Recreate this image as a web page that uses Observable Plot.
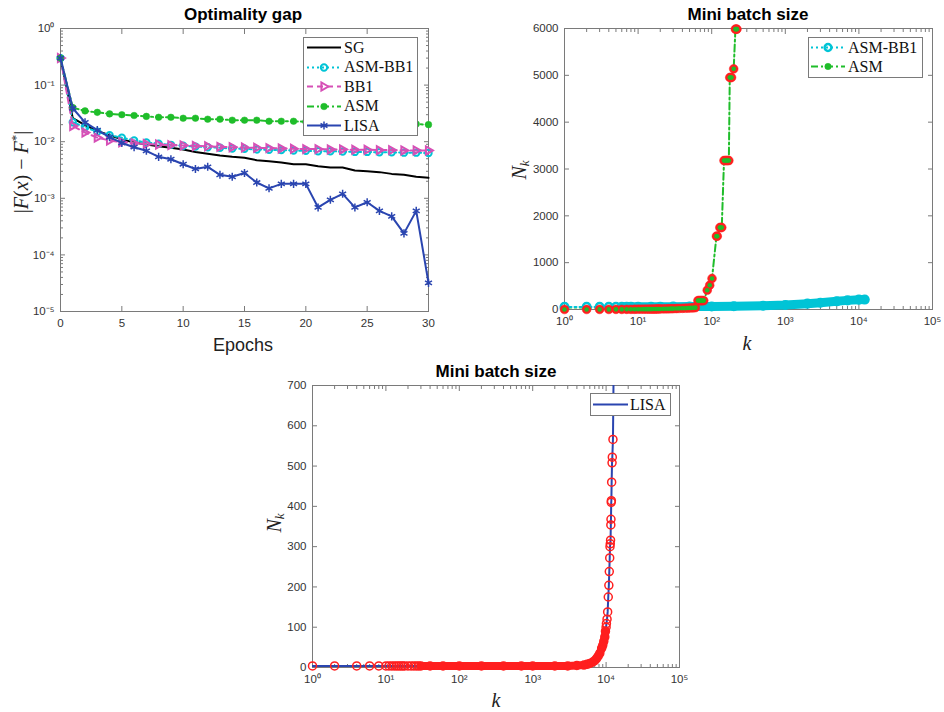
<!DOCTYPE html>
<html><head><meta charset="utf-8">
<script src="https://cdn.jsdelivr.net/npm/d3@7"></script>
<script src="https://cdn.jsdelivr.net/npm/@observablehq/plot@0.6"></script>
<style>
body{margin:0;background:#fff;}
#root{position:relative;width:944px;height:712px;overflow:hidden;font-family:Arial,"Liberation Sans",sans-serif;background:#fff;}
.abs{position:absolute;}
.title{position:absolute;font-weight:bold;font-size:17px;transform:translate(-50%,-50%);white-space:nowrap;color:#000;}
.lab{position:absolute;transform:translate(-50%,-50%);white-space:nowrap;color:#222;}
.math{font-family:"Liberation Serif","DejaVu Serif",serif;font-size:20px;}
.math sup{font-size:0.65em;vertical-align:0.55em;line-height:0;}
.math sub{font-size:0.65em;vertical-align:-0.3em;line-height:0;}
.legend{position:absolute;background:#fff;border:1px solid #7a7a7a;box-sizing:border-box;font-family:"Liberation Serif","Times New Roman",serif;font-size:16px;color:#111;}
.row{position:absolute;left:0;height:19px;display:flex;align-items:center;white-space:nowrap;}
.plot{position:absolute;}
</style></head>
<body><div id="root"></div>
<script>
// ---------------- data ----------------
const epochs = [0,1,2,3,4,5,6,7,8,9,10,11,12,13,14,15,16,17,18,19,20,21,22,23,24,25,26,27,28,29,30];
const gapSG  = [0.30,0.026,0.0196,0.0155,0.013,0.011,0.0097,0.0089,0.0083,0.0078,0.0073,0.0066,0.0061,0.0057,0.0054,0.0052,0.0047,0.0045,0.0043,0.0040,0.0040,0.0037,0.0035,0.0035,0.0031,0.0030,0.0029,0.0027,0.0026,0.0024,0.0023];
const gapASMBB1 = [0.30,0.022,0.018,0.015,0.013,0.0118,0.0105,0.0097,0.0092,0.0088,0.0085,0.0082,0.0080,0.0078,0.0076,0.0075,0.0073,0.0072,0.0071,0.0070,0.0069,0.0068,0.0068,0.0067,0.0066,0.0066,0.0065,0.0065,0.0064,0.0064,0.0063];
const gapBB1 = [0.30,0.019,0.0145,0.0118,0.0105,0.0098,0.0094,0.0091,0.0089,0.0087,0.0086,0.0084,0.0083,0.0081,0.0080,0.0079,0.0078,0.0077,0.0076,0.0075,0.0074,0.0074,0.0073,0.0073,0.0072,0.0072,0.0071,0.0071,0.0070,0.0070,0.0070];
const gapASM = [0.30,0.040,0.035,0.033,0.031,0.030,0.029,0.028,0.027,0.027,0.026,0.026,0.025,0.025,0.024,0.024,0.024,0.023,0.023,0.023,0.0225,0.022,0.022,0.022,0.021,0.021,0.021,0.021,0.0205,0.0205,0.020];
const gapLISA = [0.30,0.039,0.022,0.016,0.012,0.0095,0.0080,0.0069,0.0054,0.0049,0.0040,0.0033,0.0036,0.0026,0.0024,0.0028,0.0019,0.0015,0.0018,0.0018,0.0018,0.00069,0.00094,0.0012,0.00069,0.00085,0.00060,0.00048,0.00024,0.00060,0.000032];
const gapNames = ["SG","ASM-BB1","BB1","ASM","LISA"];
const gapValues = [gapSG, gapASMBB1, gapBB1, gapASM, gapLISA];

// Mini batch size, ASM-BB1 vs ASM: [k, N_k]
const batchASMBB1 = [[1,55],[2,55],[3,55],[4,56],[5,56],[6,56],[7,57],[8,57],[10,58],[15,59],[20,60],[30,61],[50,62],[100,65],[200,70],[500,80],[1000,95],[2000,125],[3000,145],[5000,175],[7000,195],[10000,210],[12000,212]];
const batchASM = [[1,1],[2,1],[3,2],[4,2],[5,3],[6,3],[7,4],[8,4],[9,5],[10,6],[11,6],[12,7],[13,8],[14,8],[15,9],[16,10],[17,10],[18,11],[19,12],[20,12],[22,14],[24,15],[26,16],[28,18],[30,19],[33,21],[36,23],[40,26],[44,28],[48,31],[52,34],[56,37],[60,40],
  [65,190],[67,190],[69,190],[71,190],[73,190],[75,190],[78,190],[87,412],[94,519],[101,662],[116,1565],[119,1565],[129,1751],[133,1751],[137,1751],
  [147,3181],[153,3181],[159,3181],[165,3181],[171,3181],[176,4954],[181,4954],[186,4954],[199,5138],[210,5986],[215,5986],[220,5986],[223,7400]];
// Mini batch size, LISA: [k, N_k]
const batchLISA = [[1,4],[2,4],[4,4],[6,4],[8,4],[10,4],[11,4],[12,4],[13,4],[14,4],[15,4],[16,4],[17,4],[18,4],[20,4],[22,4],[24,4],[26,4],[28,4],[30,4],[40,4],[60,4],[100,4],[200,4],[400,4],[700,4],[1000,4],[2000,4],[3000,4],[4000,5],[5000,6],[5500,8],[6000,10],[6500,13],[7000,17],[7400,22],[7800,28],[8200,35],[8700,48],[9000,55],[9300,65],[9600,76],[9800,90],[10000,100],[10100,109],[10300,120],[10500,138],[10700,175],[10900,204],[11050,238],[11200,272],[11300,300],[11400,307],[11500,316],[11600,354],[11650,368],[11750,410],[11800,414],[11900,460],[12050,508],[12150,522],[12400,566],[12700,760]];

// ticks
const epochTicks = [0,5,10,15,20,25,30];
const gapTicks = [1e-5,1e-4,1e-3,1e-2,1e-1,1];
const gapTickLabels = ["10⁻⁵","10⁻⁴","10⁻³","10⁻²","10⁻¹","10⁰"];
const kTicks = [1,10,100,1000,10000,100000];
const kTickLabels = ["10⁰","10¹","10²","10³","10⁴","10⁵"];
const nTicksASM = [0,1000,2000,3000,4000,5000,6000];
const nTicksLISA = [0,100,200,300,400,500,600,700];

// ---------------- styles ----------------
const cyan = "#00c4d6", magenta = "#d650b6", green = "#1fbd2a", blue = "#2a45b0", red = "#ff1f1f";
const triRight = {draw(ctx, size) { const r = Math.sqrt(size / Math.PI); ctx.moveTo(r * 1.1, 0); ctx.lineTo(-r * 0.65, -r); ctx.lineTo(-r * 0.65, r); ctx.closePath(); }};
const sty = {
  "SG": {stroke: "#000", width: 2},
  "ASM-BB1": {stroke: cyan, width: 2, dash: "2 3", symbol: d3.symbolCircle, r: 3.2, fill: "none", mstroke: cyan, mwidth: 2},
  "BB1": {stroke: magenta, width: 2, dash: "6 4", symbol: triRight, r: 4, fill: "none", mstroke: magenta, mwidth: 2},
  "ASM": {stroke: green, width: 2, dash: "7 3 2 3", symbol: d3.symbolCircle, r: 3.3, fill: green, mstroke: green, mwidth: 0.5},
  "LISA": {stroke: blue, width: 2, symbol: d3.symbolAsterisk, r: 3.8, fill: "none", mstroke: blue, mwidth: 1.5}
};

const root = document.getElementById("root");
const fmt = (ticks, labels) => d => { const i = ticks.indexOf(d); return i < 0 ? "" : labels[i]; };
const minorOf = ticks => ticks.slice(0, -1).flatMap(p => [2,3,4,5,6,7,8,9].map(m => m * p));
const tc = "#7a7a7a";

function boxAxes(o) {
  const marks = [];
  for (const anchor of ["bottom", "top"]) {
    marks.push(Plot.axisX(o.xTicks, {anchor, tickSize: -5, tickFormat: () => "", stroke: tc, label: null}));
    if (o.xMinor) marks.push(Plot.axisX(o.xMinor, {anchor, tickSize: -3, tickFormat: () => "", stroke: tc, label: null}));
  }
  for (const anchor of ["left", "right"]) {
    marks.push(Plot.axisY(o.yTicks, {anchor, tickSize: -5, tickFormat: () => "", stroke: tc, label: null}));
    if (o.yMinor) marks.push(Plot.axisY(o.yMinor, {anchor, tickSize: -3, tickFormat: () => "", stroke: tc, label: null}));
  }
  marks.push(Plot.axisX(o.xTicks, {anchor: "bottom", tickSize: 0, tickPadding: 7, tickFormat: o.xFormat, label: null}));
  marks.push(Plot.axisY(o.yTicks, {anchor: "left", tickSize: 0, tickPadding: 6, tickFormat: o.yFormat, label: null}));
  marks.push(Plot.frame({stroke: tc, strokeWidth: 1}));
  return marks;
}
const plotStyle = {background: "transparent", overflow: "visible", fontFamily: "Arial, 'Liberation Sans', sans-serif", fontSize: "11.5px", color: "#333"};

function place(svg, left, top) { svg.classList.add("plot"); svg.style.left = left + "px"; svg.style.top = top + "px"; root.appendChild(svg); }

// ---------------- Plot 1: optimality gap ----------------
{
  const marks = [];
  gapNames.forEach((name, si) => {
    const s = sty[name];
    const data = epochs.map((e, i) => ({epoch: e, gap: gapValues[si][i]}));
    marks.push(Plot.line(data, {x: "epoch", y: "gap", stroke: s.stroke, strokeWidth: s.width, strokeDasharray: s.dash}));
    if (s.symbol) marks.push(Plot.dot(data, {x: "epoch", y: "gap", symbol: s.symbol, r: s.r, fill: s.fill, stroke: s.mstroke, strokeWidth: s.mwidth}));
  });
  const svg = Plot.plot({
    width: 422, height: 311, marginLeft: 48, marginRight: 6, marginTop: 8, marginBottom: 20,
    style: plotStyle,
    x: {domain: [0, 30], label: null},
    y: {type: "log", domain: [1e-5, 1], label: null},
    marks: [...boxAxes({xTicks: epochTicks, yTicks: gapTicks, yMinor: minorOf(gapTicks), xFormat: d => String(d), yFormat: fmt(gapTicks, gapTickLabels)}), ...marks]
  });
  place(svg, 12, 20);
}

// ---------------- Plot 2: mini batch ASM-BB1 / ASM ----------------
{
  const bb1 = batchASMBB1.map(([k, n]) => ({k, n}));
  const asm = batchASM.map(([k, n]) => ({k, n}));
  const asmShown = asm.filter(d => d.n <= 6000);
  const svg = Plot.plot({
    width: 422, height: 309, marginLeft: 48, marginRight: 6, marginTop: 8, marginBottom: 20,
    style: plotStyle,
    x: {type: "log", domain: [1, 1e5], label: null},
    y: {domain: [0, 6000], label: null},
    marks: [
      ...boxAxes({xTicks: kTicks, xMinor: minorOf(kTicks), yTicks: nTicksASM, xFormat: fmt(kTicks, kTickLabels), yFormat: d => String(d)}),
      Plot.line(bb1.filter(d => d.k >= 6), {x: "k", y: "n", stroke: cyan, strokeWidth: 9, strokeLinecap: "round", strokeLinejoin: "round"}),
      Plot.line(bb1, {x: "k", y: "n", stroke: cyan, strokeWidth: 2, strokeDasharray: "2 3"}),
      Plot.dot(bb1, {x: "k", y: "n", r: 3.8, fill: "none", stroke: cyan, strokeWidth: 2.5}),
      Plot.line(asm, {x: "k", y: "n", stroke: green, strokeWidth: 2, strokeDasharray: "7 3 2 3", clip: true}),
      Plot.dot(asmShown, {x: "k", y: "n", r: 4.4, fill: red, stroke: red, strokeWidth: 0.5}),
      Plot.dot(asmShown, {x: "k", y: "n", r: 2.3, fill: green})
    ]
  });
  place(svg, 516, 20);
}

// ---------------- Plot 3: mini batch LISA ----------------
{
  const lisa = batchLISA.map(([k, n]) => ({k, n}));
  const svg = Plot.plot({
    width: 421, height: 310, marginLeft: 48, marginRight: 6, marginTop: 8, marginBottom: 20,
    style: plotStyle,
    x: {type: "log", domain: [1, 1e5], label: null},
    y: {domain: [0, 700], label: null},
    marks: [
      ...boxAxes({xTicks: kTicks, xMinor: minorOf(kTicks), yTicks: nTicksLISA, xFormat: fmt(kTicks, kTickLabels), yFormat: d => String(d)}),
      Plot.line(lisa, {x: "k", y: "n", stroke: blue, strokeWidth: 2, clip: true}),
      Plot.line(lisa.filter(d => d.k >= 30 && d.k <= 9800), {x: "k", y: "n", stroke: red, strokeWidth: 8, strokeLinecap: "round", strokeLinejoin: "round"}),
      Plot.dot(lisa.filter(d => d.n <= 700), {x: "k", y: "n", r: 4, fill: "none", stroke: red, strokeWidth: 1.5})
    ]
  });
  place(svg, 264, 377);
}

// ---------------- texts ----------------
function addHTML(html) { const t = document.createElement("template"); t.innerHTML = html.trim(); const el = t.content.firstChild; root.appendChild(el); return el; }
addHTML(`<div class="title" style="left:243px;top:15px">Optimality gap</div>`);
addHTML(`<div class="title" style="left:748px;top:15px">Mini batch size</div>`);
addHTML(`<div class="title" style="left:496px;top:372px">Mini batch size</div>`);
addHTML(`<div class="lab" style="left:243px;top:345px;font-size:18px;font-family:Arial,'Liberation Sans',sans-serif">Epochs</div>`);
addHTML(`<div class="lab math" style="left:21px;top:172px;transform:translate(-50%,-50%) rotate(-90deg)">|<i>F</i>(<i>x</i>) − <i>F</i><sup>*</sup>|</div>`);
addHTML(`<div class="lab math" style="left:519px;top:170px;transform:translate(-50%,-50%) rotate(-90deg)"><i>N</i><sub><i>k</i></sub></div>`);
addHTML(`<div class="lab math" style="left:274px;top:523px;transform:translate(-50%,-50%) rotate(-90deg)"><i>N</i><sub><i>k</i></sub></div>`);
addHTML(`<div class="lab math" style="left:747px;top:343px"><i>k</i></div>`);
addHTML(`<div class="lab math" style="left:496px;top:700px"><i>k</i></div>`);

// ---------------- legends ----------------
function swatch(s, w) {
  const h = 19;
  let str = `<svg width="${w}" height="${h}" style="display:block;overflow:visible">`;
  str += `<line x1="0" x2="${w}" y1="${h/2}" y2="${h/2}" stroke="${s.stroke}" stroke-width="${s.width}" ${s.dash ? `stroke-dasharray="${s.dash}"` : ""}/>`;
  if (s.symbol) str += `<path transform="translate(${w/2},${h/2})" d="${d3.symbol(s.symbol, Math.PI * s.r * s.r)()}" fill="${s.fill}" stroke="${s.mstroke}" stroke-width="${s.mwidth}"/>`;
  return str + "</svg>";
}
function legend(names, styles, box) {
  const el = addHTML(`<div class="legend" style="left:${box.left}px;top:${box.top}px;width:${box.width}px;height:${box.height}px"></div>`);
  names.forEach((n, i) => {
    const row = document.createElement("div");
    row.className = "row";
    row.style.top = (box.pad + i * box.step) + "px";
    row.innerHTML = `<div style="margin-left:${box.sx}px">${swatch(styles[i], box.sw)}</div><span style="margin-left:${box.gap}px">${n}</span>`;
    el.appendChild(row);
  });
}
legend(gapNames, gapNames.map(n => sty[n]), {left: 303, top: 37, width: 115, height: 99, pad: 0, step: 19.5, sx: 3, sw: 34, gap: 3});
legend(["ASM-BB1", "ASM"], [
  {stroke: cyan, width: 2, dash: "2 3", symbol: d3.symbolCircle, r: 3.4, fill: "none", mstroke: cyan, mwidth: 2.5},
  {stroke: green, width: 2, dash: "7 3 2 3", symbol: d3.symbolCircle, r: 3.2, fill: green, mstroke: green, mwidth: 0.5}
], {left: 808, top: 37, width: 115, height: 41, pad: 0, step: 19, sx: 2, sw: 34, gap: 3});
legend(["LISA"], [{stroke: blue, width: 2}], {left: 590, top: 393, width: 81, height: 23, pad: 1, step: 19, sx: 2, sw: 35, gap: 2});
</script>
</body></html>
